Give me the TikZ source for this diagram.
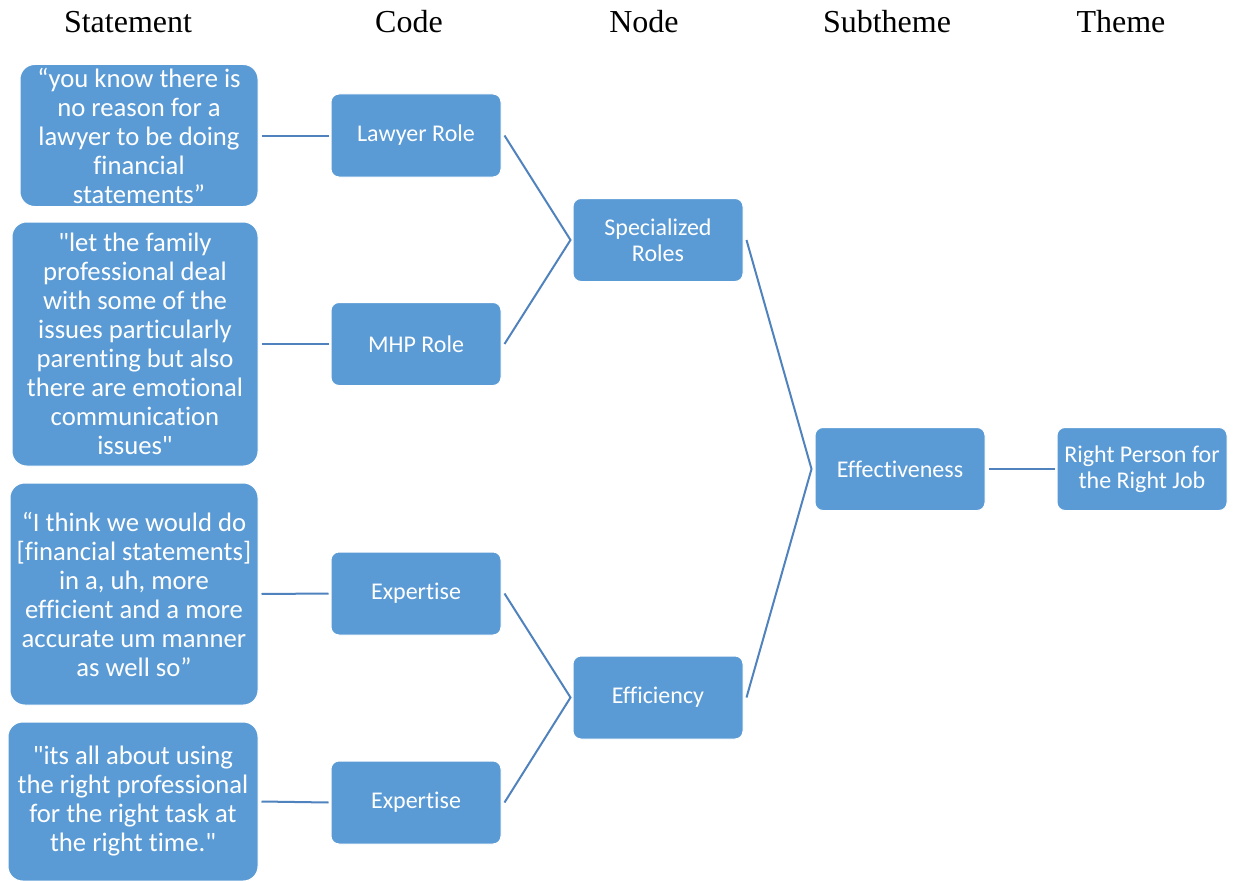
\documentclass[tikz,border=0pt]{standalone}
\usepackage{fontspec}
\setmainfont{Liberation Serif}
\newfontfamily\calibri[Ligatures=NoCommon]{Carlito}
\usetikzlibrary{calc}
\definecolor{boxblue}{HTML}{5B9BD5}
\definecolor{lineblue}{RGB}{80,130,190}
\begin{document}
\begin{tikzpicture}[x=0.75pt,y=-0.75pt,
  box/.style={draw=white, line width=0.75pt, fill=boxblue, rounded corners=6pt, text=white,
    font=\calibri\fontsize{18}{19.5}\selectfont, align=center, inner sep=0pt,
    minimum width=127.5pt, minimum height=62.25pt},
  quote/.style={box, rounded corners=11pt, font=\calibri\fontsize{20}{21.75}\selectfont},
  head/.style={font=\fontsize{24}{28}\selectfont, inner sep=0pt, anchor=base},
  link/.style={draw=lineblue, line width=1.5pt}]
\useasboundingbox (0,0) rectangle (1239,881);

% headers
\node[head] (hS) at (128,32.5) {Statement};
\node[head] (hC) at (409,32.5) {Code};
\node[head] (hN) at (644,32.5) {Node};
\node[head] (hU) at (887,32.5) {Subtheme};
\node[head] (hT) at (1121,32.5) {Theme};

% statements
\node[quote, minimum width=178.5pt, minimum height=106.5pt] (s1) at (139,135.5)
  {“you know there is\\no reason for a\\lawyer to be doing\\financial\\statements”};
\node[quote, minimum width=184.5pt, minimum height=183pt] (s2) at (135,344)
  {"let the family\\professional deal\\with some of the\\issues particularly\\parenting but also\\there are emotional\\communication\\issues"};
\node[quote, minimum width=186pt, minimum height=166.5pt] (s3) at (134,594)
  {“I think we would do\\{[}financial statements{]}\\in a, uh, more\\efficient and a more\\accurate um manner\\as well so”};
\node[quote, minimum width=187.5pt, minimum height=119.25pt] (s4) at (133,801.5)
  {"its all about using\\the right professional\\for the right task at\\the right time."};

% codes
\node[box] (c1) at (416,135.5) {Lawyer Role};
\node[box] (c2) at (416,344) {MHP Role};
\node[box] (c3) at (416,593.5) {Expertise};
\node[box] (c4) at (416,802.5) {Expertise};

% nodes
\node[box] (n1) at (658,240) {Specialized\\Roles};
\node[box] (n2) at (658,697.5) {Efficiency};

% subtheme / theme
\node[box] (u1) at (900,469) {Effectiveness};
\node[box] (t1) at (1142,469) {Right Person for\\the Right Job};

% connectors
\draw[link] ($(s1.east)+(3,0)$) -- ($(c1.west)+(-2,0)$);
\draw[link] ($(s2.east)+(3,0)$) -- ($(c2.west)+(-2,0)$);
\draw[link] ($(s3.east)+(3,0)$) -- ($(c3.west)+(-2,0)$);
\draw[link] ($(s4.east)+(3,0)$) -- ($(c4.west)+(-2,0)$);

\coordinate (j1) at ($(n1.west)+(-2,0)$);
\draw[link] ($(c1.east)+(3,0)$) -- (j1) -- ($(c2.east)+(3,0)$);
\coordinate (j2) at ($(n2.west)+(-2,0)$);
\draw[link] ($(c3.east)+(3,0)$) -- (j2) -- ($(c4.east)+(3,0)$);
\coordinate (j3) at ($(u1.west)+(-3,0)$);
\draw[link] ($(n1.east)+(3,0)$) -- (j3) -- ($(n2.east)+(3,0)$);
\draw[link] ($(u1.east)+(3,0)$) -- ($(t1.west)+(-2,0)$);
\end{tikzpicture}
\end{document}
